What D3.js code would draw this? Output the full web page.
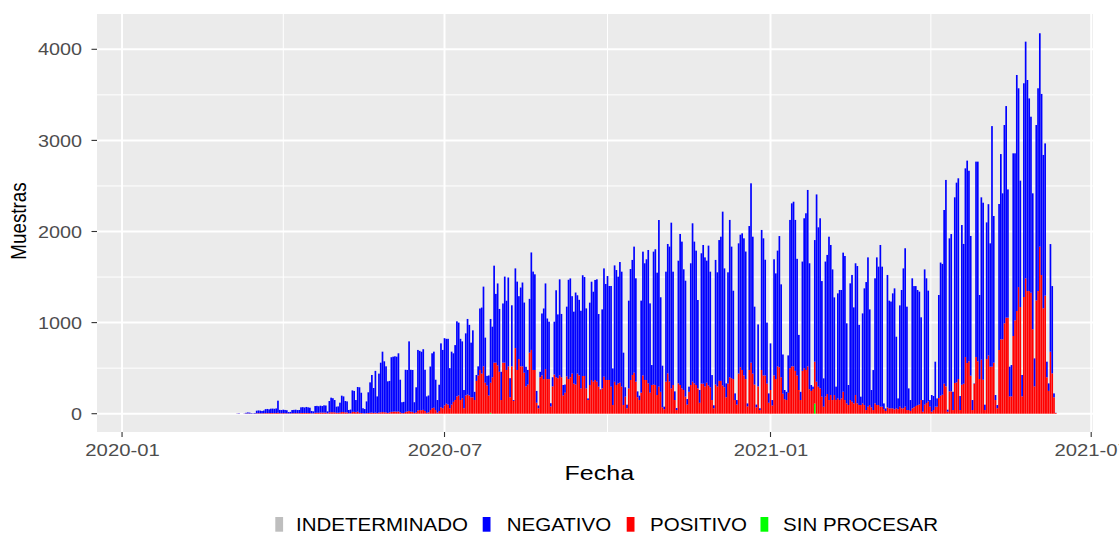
<!DOCTYPE html>
<html><head><meta charset="utf-8">
<script src="https://cdn.jsdelivr.net/npm/d3@7"></script>
<style>body{margin:0;background:#fff}svg{display:block}text{font-family:"Liberation Sans",Arial,sans-serif}</style>
</head><body><svg id="chart" width="1119" height="533"></svg>
<script>
// ---- DATA (daily samples, first day = startDate) ----
const startDate = "2020-03-01";
const negativo = [
0,0,0,0,0,2,4,0,0,2,8,11,10,5,3,6,29,31,30,26,30,44,46,42,48,49,48,51,133,37,
35,38,36,33,15,17,35,37,38,35,36,62,64,60,66,62,59,26,22,74,76,72,76,72,80,78,22,125,160,154,
135,67,70,109,180,172,125,121,36,39,236,230,135,271,
280,222,55,48,129,227,334,413,274,458,184,428,545,663,559,506,347,345,600,604,
606,604,638,358,120,122,462,455,764,460,460,118,275,665,650,642,666,452,180,185,
478,603,616,333,138,288,702,640,739,712,722,440,581,533,603,824,800,672,624,200,682,830,775,
600,735,90,65,100,675,725,875,495,105,220,700,555,1065,755,900,690,310,650,945,
760,975,210,670,10,875,970,690,865,920,770,215,160,590,1070,1080,1050,130,30,60,
680,775,940,665,630,35,100,580,955,700,1055,695,115,90,765,1090,1085,850,790,1010,860,830,
852,1106,1086,878,18,904,1079,987,1098,1123,797,7,867,1189,1054,1141,1032,1105,402,1278,
1262,1171,1325,1262,575,103,39,963,1218,1263,1384,1134,65,48,1010,1359,1281,1325,1464,980,
219,1459,1490,1343,1829,1038,457,27,1207,1420,1482,1819,1244,95,22,1347,1658,1611,1325,1273,
61,57,1336,1738,1556,1475,970,
140,1431,1522,1416,1340,1535,1269,274,32,1368,1252,1546,1583,1908,1305,153,1222,1727,1444,970,
73,50,1430,1455,1500,1505,1400,33,1580,1969,1503,855,30,680,20,1537,1505,1270,670,103,
512,60,1275,1160,1270,1440,1020,430,100,90,410,1627,1789,1807,1657,1280,605,90,1200,1645,1720,1936,
1383,65,27,1335,2056,1750,1867,1269,311,1483,1527,1793,1647,1434,1072,147,1153,1208,1190,1527,
1581,879,220,1281,1391,1054,1446,1508,880,92,988,1281,1405,1639,1050,190,439,1373,1621,1519,
1775,1537,63,28,1453,1182,1172,1262,1328,786,118,1112,1299,1536,1739,1135,238,120,1427,1331,1316,1263,1240,
908,128,1485,1369,1216,73,183,154,494,91,1131,1461,1436,1907,2266,22,1680,1727,201,2038,
2192,2203,154,1753,1534,2071,2222,2092,1534,110,4,2145,2192,922,1782,1943,59,1500,1660,
1354,2641,1610,55,35,1603,2034,1603,2177,2323,1408,326,344,2005,1833,2591,2182,1387,235,2346,
2598,2317,2115,1932,1492,307,1925,2226,2343,1988,1683,1671,171,83,1182,958,43,2
];
const positivo = [
0,0,0,0,0,1,1,0,0,1,2,3,2,1,1,2,4,5,4,4,5,6,6,6,7,7,6,7,10,5,
5,6,5,5,3,3,5,5,6,5,5,8,8,8,8,8,7,4,4,10,10,10,12,12,12,12,4,14,16,16,
15,10,10,12,18,18,14,14,5,6,20,20,15,22,
10,8,5,3,6,8,10,12,8,12,6,12,15,18,16,14,8,15,20,22,
24,22,25,15,6,8,20,25,30,22,20,8,15,35,40,38,42,30,10,15,
40,60,65,40,12,30,70,60,90,110,100,60,100,130,150,190,200,150,170,60,200,210,200,
180,180,150,360,420,480,440,520,340,310,200,330,400,560,560,530,460,150,560,560,
480,520,180,520,140,720,480,600,520,520,450,300,320,670,700,480,480,120,60,400,
420,380,490,380,380,80,300,430,400,390,420,400,200,230,410,380,400,440,330,320,440,420,
278,414,414,278,150,315,370,352,370,352,297,260,278,406,370,370,370,297,95,350,
315,333,340,297,95,187,60,278,370,425,450,352,180,150,231,420,370,370,333,231,
315,320,315,205,297,240,70,50,352,443,352,278,315,150,40,333,315,278,260,187,
100,240,315,352,333,315,278,
120,330,330,300,340,310,290,150,60,320,300,360,360,310,290,180,330,400,390,380,
150,100,440,510,480,420,380,80,480,560,440,320,70,300,40,480,420,420,330,120,
260,90,420,380,520,510,400,220,160,150,230,500,520,520,470,420,260,150,470,500,480,520,
268,250,270,461,351,296,278,187,77,187,216,150,205,150,205,150,168,150,168,241,
150,113,95,150,132,113,205,113,95,95,113,95,40,77,95,70,40,113,95,95,
77,77,50,30,70,59,59,59,48,59,50,77,59,59,77,40,40,30,59,70,85,95,100,
150,22,99,117,135,77,22,40,77,77,172,198,208,329,300,22,245,245,40,337,
344,381,40,318,329,622,556,575,417,40,329,622,575,381,593,373,40,600,640,
516,516,560,150,60,699,816,816,992,1054,1054,190,190,853,1025,1127,1390,1171,190,1281,
1486,1346,1346,1328,927,300,1244,1346,1833,1522,1157,1296,400,250,680,443,180,8
];
const sinProcesarFechas = ["2020-07-27","2021-01-26"];
const sinProcesarValores = [10,110];
const indeterminadoFechas = ["2020-08-18","2020-11-10","2021-04-20"];
const indeterminadoValores = [3,4,5];
const categorias = ["INDETERMINADO","NEGATIVO","POSITIVO","SIN PROCESAR"];
const colores = ["#BEBEBE","#0000FF","#FF0000","#00FF00"];
const yTicks = [0,1000,2000,3000,4000];
const yMinor = [500,1500,2500,3500];
const xTickFechas = ["2020-01-01","2020-07-01","2021-01-01","2021-07-01"];
const xTickLabels = ["2020-01","2020-07","2021-01","2021-07"];

// ---- BUILD ----
const parse = d3.utcParse("%Y-%m-%d");
const fmt = d3.utcFormat("%Y-%m-%d");
const start = parse(startDate);
const spMap = new Map(sinProcesarFechas.map((d,i)=>[d,sinProcesarValores[i]]));
const inMap = new Map(indeterminadoFechas.map((d,i)=>[d,indeterminadoValores[i]]));
const rows = negativo.map((v,i)=>{
  const date = d3.utcDay.offset(start,i), k = fmt(date);
  return {date, "NEGATIVO":v, "POSITIVO":positivo[i], "SIN PROCESAR":spMap.get(k)||0, "INDETERMINADO":inMap.get(k)||0};
});
const stackKeys = ["SIN PROCESAR","POSITIVO","NEGATIVO","INDETERMINADO"];
const series = d3.stack().keys(stackKeys)(rows);
const color = d3.scaleOrdinal().domain(categorias).range(colores);

const P = {left:97, right:1093, top:14, bottom:432};
const x = d3.scaleUtc().domain([parse("2020-01-01"), parse("2021-07-01")]).range([122.05, 1091.2]);
const y = d3.scaleLinear().domain([0,4000]).range([413.7, 49.3]);
const dayPx = x(parse("2020-01-02")) - x(parse("2020-01-01"));
const bw = dayPx*0.95;

const svg = d3.select("#chart");
svg.append("rect").attr("width",1119).attr("height",533).attr("fill","#fff");
svg.append("defs").append("clipPath").attr("id","clip").append("rect")
  .attr("x",P.left).attr("y",P.top).attr("width",P.right-P.left).attr("height",P.bottom-P.top);
svg.append("rect").attr("x",P.left).attr("y",P.top).attr("width",P.right-P.left).attr("height",P.bottom-P.top).attr("fill","#EBEBEB");

const grid = svg.append("g").attr("clip-path","url(#clip)");
const xTicks = xTickFechas.map(parse);
const xMinor = d3.pairs(xTicks).map(([a,b])=>new Date((+a + +b)/2));
grid.selectAll(".ym").data(yMinor).join("line").attr("x1",P.left).attr("x2",P.right)
  .attr("y1",d=>y(d)).attr("y2",d=>y(d)).attr("stroke","#fff").attr("stroke-width",1);
grid.selectAll(".xm").data(xMinor).join("line").attr("y1",P.top).attr("y2",P.bottom)
  .attr("x1",d=>x(d)).attr("x2",d=>x(d)).attr("stroke","#fff").attr("stroke-width",1);
grid.selectAll(".yM").data(yTicks).join("line").attr("x1",P.left).attr("x2",P.right)
  .attr("y1",d=>y(d)).attr("y2",d=>y(d)).attr("stroke","#fff").attr("stroke-width",2);
grid.selectAll(".xM").data(xTicks).join("line").attr("y1",P.top).attr("y2",P.bottom)
  .attr("x1",d=>x(d)).attr("x2",d=>x(d)).attr("stroke","#fff").attr("stroke-width",2);

const bars = svg.append("g").attr("clip-path","url(#clip)");
series.forEach(s=>{
  bars.append("g").attr("fill",color(s.key)).selectAll("rect")
    .data(s.filter(d=>d[1]>d[0])).join("rect")
    .attr("x",d=>x(d.data.date)-bw/2).attr("width",bw)
    .attr("y",d=>y(d[1])).attr("height",d=>y(d[0])-y(d[1]));
});

function txt(str,tx,ty,size,sx,anchor,fill,extra){
  return svg.append("text").text(str)
    .attr("transform",`translate(${tx},${ty}) scale(${sx},1)${extra||""}`)
    .attr("text-anchor",anchor).attr("dy","0.358em")
    .style("font-size",size+"px").attr("fill",fill);
}
// y axis
yTicks.forEach(t=>{
  svg.append("line").attr("x1",91.5).attr("x2",P.left).attr("y1",y(t)).attr("y2",y(t)).attr("stroke","#333").attr("stroke-width",1.1);
  txt(String(t),82,y(t),17.2,1.15,"end","#4D4D4D");
});
// x axis
xTicks.forEach((t,i)=>{
  svg.append("line").attr("x1",x(t)).attr("x2",x(t)).attr("y1",P.bottom).attr("y2",P.bottom+5).attr("stroke","#333").attr("stroke-width",1.1);
  txt(xTickLabels[i],x(t)+0.5,450,17.2,1.18,"middle","#4D4D4D");
});
// titles
txt("Fecha",599.3,473,20.5,1.22,"middle","#000");
txt("Muestras",18.3,221,18.8,1.2,"middle","#000"," rotate(-90)");

// legend
const legX = [275.3,482.7,626.7,760.5];
const legT = [296,506.7,650,783];
categorias.forEach((c,i)=>{
  svg.append("rect").attr("x",legX[i]).attr("y",517).attr("width",7.8).attr("height",14.7).attr("fill",color(c));
  txt(c,legT[i],524.3,19,1.08,"start","#000");
});
</script></body></html>
